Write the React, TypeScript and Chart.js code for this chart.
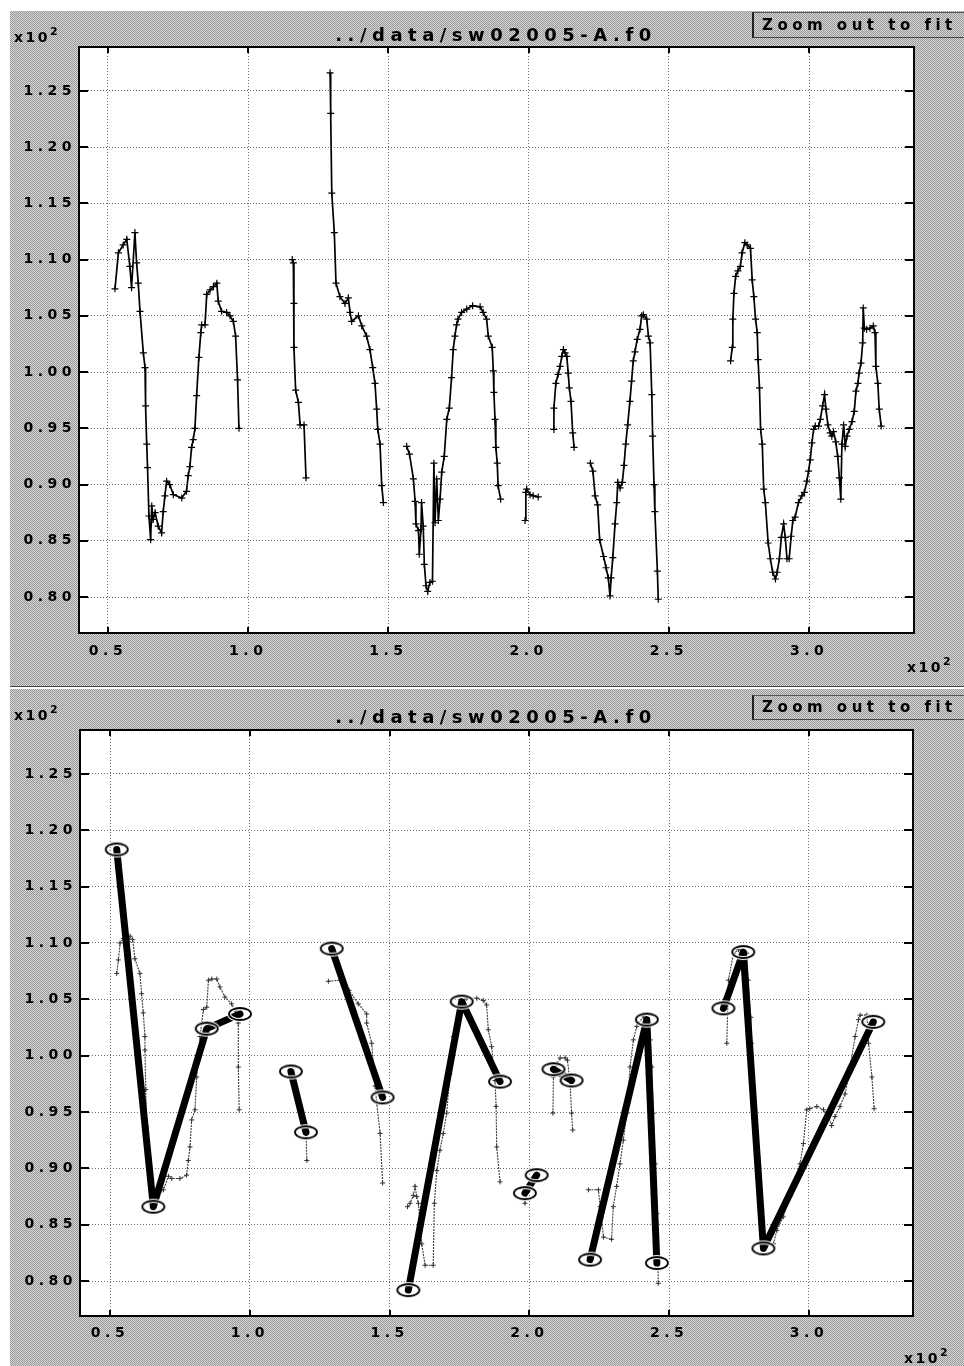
import React, { useEffect, useRef } from "react";
import { Chart, registerables } from "chart.js";

Chart.register(...registerables);

type Pt = [number, number];

// ---------- axes ----------
const xTickValues = [50, 100, 150, 200, 250, 300];
const yTickValues = [80, 85, 90, 95, 100, 105, 110, 115, 120, 125];
const xRangeTop = { min: 39.66, max: 337.4 };
const yRangeTop = { min: 76.8, max: 128.9 };
const xRangeBottom = { min: 39.27, max: 337.2 };
const yRangeBottom = { min: 76.9, max: 128.9 };

const titleText = "../data/sw02005-A.f0";
const buttonText = "Zoom out to fit";
const multiplierText = "x10";
const multiplierExp = "2";

// ---------- upper panel: raw f0 track (frame, Hz) ----------
const rawTrack1: Pt[] = [
  [52.5, 107.4], [53.7, 110.6], [55.4, 111.3], [56.7, 111.8], [57.8, 109.4], [58.4, 107.5],
  [59.6, 112.4], [60.2, 109.7], [60.8, 107.9], [61.4, 105.4], [62.6, 101.7], [63.2, 100.4],
  [63.4, 97.0], [63.8, 93.6], [64.1, 91.5], [64.6, 87.2], [65.2, 85.1], [65.6, 88.1],
  [66.1, 86.9], [66.8, 87.5], [67.9, 86.3], [69.1, 85.7], [69.7, 87.6], [70.3, 89.0],
  [70.9, 90.3], [72.0, 90.0], [73.3, 89.1], [76.3, 88.8], [78.0, 89.4], [78.6, 90.8],
  [79.2, 91.6], [79.8, 93.3], [80.4, 94.0], [81.0, 95.0], [81.6, 97.9], [82.4, 101.3],
  [83.1, 103.5], [83.4, 104.2], [84.6, 104.2], [85.2, 106.9], [86.4, 107.3], [87.6, 107.6],
  [88.8, 107.9], [89.3, 106.3], [90.5, 105.4], [92.3, 105.3], [93.5, 105.0], [94.7, 104.5],
  [95.5, 103.2], [96.2, 99.3], [96.7, 95.0],
];
const rawTrack2: Pt[] = [
  [115.7, 110.0], [116.1, 109.7], [116.3, 106.1], [116.3, 102.2], [116.9, 98.4], [117.9, 97.3],
  [118.5, 95.3], [119.9, 95.3], [120.6, 90.6],
];
const rawTrack3: Pt[] = [
  [129.2, 126.6], [129.4, 123.0], [129.8, 115.9], [130.7, 112.4], [131.3, 107.9], [132.7, 106.7],
  [134.5, 106.1], [135.7, 106.6], [136.3, 105.3], [136.9, 104.5], [139.3, 105.0], [140.5, 104.1],
  [142.2, 103.2], [143.4, 102.0], [144.4, 100.4], [145.2, 99.0], [145.8, 96.7], [146.2, 94.9],
  [147.0, 93.6], [147.6, 89.9], [148.2, 88.4],
];
const rawTrack4: Pt[] = [
  [156.5, 93.4], [157.5, 92.7], [158.9, 90.5], [159.5, 88.5], [159.8, 86.5], [160.7, 85.9],
  [161.0, 83.8], [161.6, 86.0], [161.8, 88.4], [162.4, 86.3], [162.8, 82.9], [163.4, 81.0],
  [164.0, 80.5], [164.8, 81.3], [165.7, 81.4], [166.2, 91.9], [166.6, 86.6], [167.2, 90.5],
  [167.8, 86.8], [168.4, 88.7], [169.0, 91.1], [169.9, 92.5], [170.8, 95.8], [171.7, 96.8],
  [172.5, 99.5], [173.1, 102.0], [173.7, 103.2], [174.3, 104.2], [174.8, 104.7], [176.1, 105.3],
  [177.9, 105.6], [180.0, 105.9], [182.7, 105.8], [183.8, 105.3], [185.0, 104.7], [185.6, 103.2],
  [187.0, 102.2], [187.4, 100.1], [187.6, 98.2], [188.0, 95.8], [188.3, 93.3], [188.8, 91.9],
  [189.1, 89.9], [190.0, 88.7],
];
const rawTrack5: Pt[] = [
  [198.7, 86.8], [199.0, 89.3], [199.3, 89.6], [200.5, 89.1], [201.6, 89.0], [203.4, 88.9],
];
const rawTrack6: Pt[] = [
  [209.0, 94.9], [209.0, 96.8], [209.7, 99.0], [210.5, 99.8], [211.2, 100.5], [211.8, 101.4],
  [212.4, 102.0], [213.0, 101.7], [213.6, 101.4], [214.1, 99.9], [214.5, 98.6], [215.1, 97.4],
  [215.7, 94.6], [216.2, 93.3],
];
const rawTrack7: Pt[] = [
  [222.0, 91.9], [222.9, 91.2], [223.7, 89.0], [224.6, 88.2], [225.3, 85.1], [226.7, 83.6],
  [227.6, 82.6], [228.4, 81.7], [229.0, 80.1], [229.4, 81.7], [230.0, 83.5], [230.8, 86.5],
  [231.4, 88.4], [231.8, 90.2], [232.6, 89.7], [233.4, 90.2], [234.0, 91.7], [234.6, 93.6],
  [235.3, 95.3], [236.1, 97.4], [236.7, 99.2], [237.3, 101.0], [237.9, 101.8], [238.7, 102.9],
  [239.7, 103.8], [240.3, 105.0], [240.9, 105.1], [242.1, 104.7], [242.7, 103.2], [243.3, 102.6],
  [243.9, 98.0], [244.2, 94.3], [244.7, 90.0], [245.0, 87.6], [245.9, 82.3], [246.2, 79.8],
];
const rawTrack8: Pt[] = [
  [272.0, 101.0], [272.6, 102.2], [272.8, 104.7], [273.2, 107.0], [273.8, 108.5], [274.6, 109.0],
  [275.5, 109.4], [276.1, 110.6], [277.1, 111.5], [277.9, 111.3], [279.1, 111.0], [279.7, 108.2],
  [280.3, 106.7], [280.9, 104.7], [281.5, 103.5], [281.8, 101.1], [282.3, 98.6], [282.7, 94.9],
  [283.3, 93.6], [283.8, 89.6], [284.4, 88.4], [285.4, 84.8], [286.2, 83.4], [287.0, 82.2],
  [288.0, 81.6], [288.6, 82.2], [289.4, 83.4], [290.1, 85.3], [290.9, 86.5], [291.5, 85.3],
  [292.1, 83.4], [292.9, 83.4], [293.6, 85.4], [294.2, 86.8], [295.0, 87.1], [296.2, 88.4],
  [297.4, 89.0], [298.3, 89.3], [299.2, 90.3], [299.8, 91.2], [300.4, 92.2], [301.0, 93.7],
  [301.6, 94.9], [302.2, 95.2], [303.4, 95.2], [304.0, 95.8], [304.8, 97.0], [305.5, 98.0],
  [306.0, 96.7], [306.7, 95.3], [307.5, 94.6], [308.1, 94.3], [308.7, 94.7], [309.5, 93.8],
  [310.2, 92.5], [310.8, 90.6], [311.3, 88.7], [311.7, 93.6], [312.3, 95.3], [312.9, 93.4],
  [313.5, 94.3], [314.3, 94.9], [315.3, 95.6], [316.1, 96.5], [316.7, 98.3], [317.4, 99.0],
  [317.8, 99.9], [318.5, 100.8], [319.1, 102.6], [319.3, 105.7], [319.7, 103.9], [320.5, 103.8],
  [321.7, 103.9], [322.9, 104.1], [323.5, 103.5], [323.8, 100.5], [324.5, 99.0], [325.0, 96.7],
  [325.7, 95.2],
];
const rawTrack = [rawTrack1, rawTrack2, rawTrack3, rawTrack4, rawTrack5, rawTrack6, rawTrack7, rawTrack8];

// ---------- lower panel: smoothed f0 track ----------
const smoothTrack1: Pt[] = [
  [52.4, 107.3], [53.0, 108.5], [53.6, 110.0], [54.8, 110.4], [56.0, 110.3], [56.6, 110.1],
  [57.2, 110.6], [58.1, 110.3], [58.9, 108.6], [60.7, 107.3], [61.3, 105.5], [61.9, 103.8],
  [62.5, 101.7], [62.5, 100.5], [62.8, 97.0], [63.1, 93.7], [64.0, 90.1], [64.9, 87.5],
  [66.7, 87.5], [69.1, 88.1], [70.9, 89.3], [72.1, 89.1], [75.0, 89.1], [77.4, 89.4],
  [78.0, 90.7], [78.6, 91.9], [79.2, 94.3], [80.4, 95.2], [81.0, 98.1], [82.2, 101.7],
  [82.8, 102.9], [83.4, 104.1], [84.6, 104.3], [85.2, 106.7], [86.4, 106.8], [88.2, 106.8],
  [89.3, 106.1], [91.1, 105.2], [93.5, 104.6], [94.7, 104.0], [95.9, 102.9], [95.9, 99.0],
  [96.2, 95.2],
];
const smoothTrack2: Pt[] = [
  [114.4, 98.1], [115.6, 97.3], [118.0, 95.2], [119.1, 94.3], [120.1, 93.1], [120.4, 90.7],
];
const smoothTrack3: Pt[] = [
  [128.1, 106.6], [132.3, 106.7], [135.5, 105.8], [138.8, 104.6], [141.8, 103.7], [141.8, 102.9],
  [143.6, 101.1], [144.8, 97.3], [145.4, 95.8], [146.6, 93.1], [147.5, 88.7],
];
const smoothTrack4: Pt[] = [
  [156.4, 86.6], [157.3, 86.9], [158.5, 87.6], [159.1, 88.4], [159.7, 87.5], [160.3, 86.9],
  [161.5, 83.3], [162.7, 81.4], [165.6, 81.4], [166.0, 86.9], [166.9, 89.8], [168.0, 91.6],
  [169.2, 93.1], [170.4, 94.9], [171.6, 98.4], [172.8, 101.7], [174.6, 104.3], [177.6, 105.1],
  [181.2, 105.1], [183.5, 104.9], [184.7, 104.5], [185.3, 102.3], [186.5, 100.8], [187.7, 97.8],
  [188.1, 95.5], [188.3, 91.9], [189.5, 88.8],
];
const smoothTrack5: Pt[] = [[198.4, 86.9], [199.6, 88.4], [202.6, 89.5]];
const smoothTrack6: Pt[] = [
  [208.4, 94.9], [208.6, 98.1], [209.8, 99.3], [211.0, 99.8], [212.8, 99.8], [213.6, 99.6],
  [214.5, 97.8], [215.1, 94.9], [215.5, 93.4],
];
const smoothTrack7: Pt[] = [
  [221.1, 88.1], [224.7, 88.1], [225.3, 86.6], [226.5, 83.9], [229.4, 83.7], [230.0, 86.6],
  [231.2, 88.4], [232.4, 90.4], [233.6, 92.5], [234.8, 94.9], [236.0, 99.0], [237.2, 101.4],
  [238.4, 102.6], [240.8, 103.5], [243.2, 101.4], [243.8, 99.0], [244.3, 94.9], [245.0, 90.4],
  [245.6, 86.0], [246.1, 79.8],
];
const smoothTrack8: Pt[] = [
  [270.6, 101.1], [271.2, 106.7], [273.0, 109.1], [274.8, 109.4], [277.7, 109.1], [278.3, 106.7],
  [279.2, 103.4], [279.5, 101.1], [280.7, 94.6], [281.9, 91.0], [283.1, 86.3], [284.3, 83.3],
  [287.3, 83.3], [288.5, 84.5], [290.8, 85.7], [293.2, 87.5], [296.8, 90.4], [298.0, 92.2],
  [299.2, 95.2], [300.3, 95.3], [302.8, 95.5], [305.2, 95.2], [307.0, 94.6], [308.1, 93.8],
  [309.3, 94.6], [311.1, 95.5], [312.9, 96.6], [314.7, 99.0], [316.5, 101.7], [317.7, 103.2],
  [318.3, 103.6], [320.7, 103.6], [321.3, 101.1], [322.5, 98.1], [323.3, 95.3],
];
const smoothTrack = [smoothTrack1, smoothTrack2, smoothTrack3, smoothTrack4, smoothTrack5, smoothTrack6, smoothTrack7, smoothTrack8];

// ---------- lower panel: stylized targets ----------
const targets1: Pt[] = [[52.4, 118.3], [65.5, 86.6], [84.6, 102.4], [96.5, 103.7]];
const targets2: Pt[] = [[114.7, 98.6], [120.1, 93.2]];
const targets3: Pt[] = [[129.3, 109.5], [147.5, 96.3]];
const targets4: Pt[] = [[156.7, 79.2], [175.8, 104.8], [189.5, 97.7]];
const targets5: Pt[] = [[198.4, 87.8], [202.6, 89.4]];
const targets6: Pt[] = [[208.6, 98.8], [215.1, 97.8]];
const targets7: Pt[] = [[221.7, 81.9], [242.0, 103.2], [245.6, 81.6]];
const targets8: Pt[] = [[269.4, 104.2], [276.5, 109.2], [283.7, 82.9], [323.0, 103.0]];
const targets = [targets1, targets2, targets3, targets4, targets5, targets6, targets7, targets8];

// ---------- helpers ----------
const FONT = "'DejaVu Sans', sans-serif";
const toXY = (seg: Pt[]) => seg.map(([x, y]) => ({ x, y }));

function makeEllipse(): HTMLCanvasElement {
  const c = document.createElement("canvas");
  c.width = 28;
  c.height = 18;
  const g = c.getContext("2d")!;
  g.beginPath();
  g.ellipse(14, 9, 11, 6, 0, 0, Math.PI * 2);
  g.strokeStyle = "#fff";
  g.lineWidth = 4;
  g.stroke();
  g.beginPath();
  g.ellipse(14, 9, 11, 6, 0, 0, Math.PI * 2);
  g.strokeStyle = "#000";
  g.lineWidth = 1.8;
  g.stroke();
  return c;
}

const framePlugin = {
  id: "frame",
  beforeDraw(chart: any) {
    const { ctx, chartArea: a } = chart;
    ctx.save();
    ctx.fillStyle = "#fff";
    ctx.fillRect(a.left, a.top, a.right - a.left, a.bottom - a.top);
    ctx.restore();
    ctx.letterSpacing = "4.5px";
  },
  afterDraw(chart: any) {
    const { ctx, chartArea: a, scales } = chart;
    ctx.save();
    ctx.strokeStyle = "#000";
    ctx.lineWidth = 2;
    ctx.beginPath();
    xTickValues.forEach((v) => {
      const px = Math.round(scales.x.getPixelForValue(v));
      ctx.moveTo(px, a.top);
      ctx.lineTo(px, a.top + 6);
      ctx.moveTo(px, a.bottom);
      ctx.lineTo(px, a.bottom - 6);
    });
    yTickValues.forEach((v) => {
      const py = Math.round(scales.y.getPixelForValue(v));
      ctx.moveTo(a.left, py);
      ctx.lineTo(a.left + 9, py);
      ctx.moveTo(a.right, py);
      ctx.lineTo(a.right - 9, py);
    });
    ctx.stroke();
    ctx.lineWidth = 2;
    ctx.strokeRect(a.left, a.top, a.right - a.left, a.bottom - a.top);
    ctx.restore();
  },
};

interface Geom {
  padTop: number;
  padRight: number;
  yWidth: number;
  xHeight: number;
  xLabelPad: number;
  xr: { min: number; max: number };
  yr: { min: number; max: number };
}

function buildChart(canvas: HTMLCanvasElement, datasets: any[], g: Geom) {
  const tickFont = { family: FONT, size: 14, weight: "bold" as const };
  return new Chart(canvas, {
    type: "scatter",
    data: { datasets },
    options: {
      animation: false,
      responsive: false,
      devicePixelRatio: 1,
      events: [],
      layout: { padding: { left: 0, top: g.padTop, right: g.padRight, bottom: 0 } },
      plugins: { legend: { display: false }, tooltip: { enabled: false }, title: { display: false } },
      scales: {
        x: {
          type: "linear",
          min: g.xr.min,
          max: g.xr.max,
          afterBuildTicks: (s: any) => {
            s.ticks = xTickValues.map((v) => ({ value: v }));
          },
          afterFit: (s: any) => {
            s.height = g.xHeight;
          },
          ticks: {
            callback: (v: any) => (Number(v) / 100).toFixed(1),
            font: tickFont,
            color: "#000",
            padding: g.xLabelPad,
            maxRotation: 0,
            autoSkip: false,
          },
          grid: { color: "#6a6a6a", lineWidth: 1, drawTicks: false },
          border: { display: false, dash: [1, 2] },
        },
        y: {
          type: "linear",
          min: g.yr.min,
          max: g.yr.max,
          afterBuildTicks: (s: any) => {
            s.ticks = yTickValues.map((v) => ({ value: v }));
          },
          afterFit: (s: any) => {
            s.width = g.yWidth;
          },
          ticks: {
            callback: (v: any) => (Number(v) / 100).toFixed(2),
            font: tickFont,
            color: "#000",
            padding: 3,
            autoSkip: false,
          },
          grid: { color: "#6a6a6a", lineWidth: 1, drawTicks: false },
          border: { display: false, dash: [1, 2] },
        },
      },
    } as any,
    plugins: [framePlugin],
  });
}

const checker = "repeating-conic-gradient(#9a9a9a 0% 25%, #d4d4d4 0% 50%) 0 0 / 2px 2px";

function Multiplier({ left, baseline }: { left: number; baseline: number }) {
  return (
    <div
      style={{
        position: "absolute",
        left,
        top: baseline - 12,
        fontFamily: FONT,
        fontWeight: "bold",
        fontSize: 14,
        lineHeight: "14px",
        letterSpacing: 2.5,
        color: "#000",
        whiteSpace: "nowrap",
      }}
    >
      {multiplierText}
      <span style={{ fontSize: 11, position: "relative", top: -7, letterSpacing: 0 }}>{multiplierExp}</span>
    </div>
  );
}

function Overlay({ titleBaseline, btnTop, btnH, brBaseline, brLeft, tlBaseline }: any) {
  return (
    <>
      <Multiplier left={4} baseline={tlBaseline} />
      <div
        style={{
          position: "absolute",
          left: 486 - 250,
          width: 500,
          top: titleBaseline - 15,
          textAlign: "center",
          fontFamily: FONT,
          fontWeight: "bold",
          fontSize: 18,
          lineHeight: "18px",
          letterSpacing: 5.5,
          color: "#000",
          whiteSpace: "nowrap",
        }}
      >
        {titleText}
      </div>
      <div
        style={{
          position: "absolute",
          left: 742,
          top: btnTop,
          width: 212,
          height: btnH,
          boxSizing: "border-box",
          borderLeft: "2px solid #222",
          borderTop: "1px solid #555",
          borderBottom: "1px solid #444",
          fontFamily: FONT,
          fontWeight: "bold",
          fontSize: 15,
          lineHeight: `${btnH - 2}px`,
          letterSpacing: 4.5,
          paddingLeft: 8,
          color: "#000",
          whiteSpace: "nowrap",
          overflow: "hidden",
        }}
      >
        {buttonText}
      </div>
      <Multiplier left={brLeft} baseline={brBaseline} />
    </>
  );
}

export default function App() {
  const topRef = useRef<HTMLCanvasElement>(null);
  const botRef = useRef<HTMLCanvasElement>(null);

  useEffect(() => {
    const ellipse = makeEllipse();

    const topSets = rawTrack.map((seg) => ({
      data: toXY(seg),
      showLine: true,
      borderColor: "#000",
      borderWidth: 1.7,
      tension: 0,
      pointStyle: "cross",
      pointRadius: 3.5,
      pointBorderWidth: 1.2,
      pointBorderColor: "#000",
      pointBackgroundColor: "#000",
    }));

    const thickSets = targets.map((seg) => ({
      data: toXY(seg),
      showLine: true,
      borderColor: "#000",
      borderWidth: 7,
      borderJoinStyle: "round",
      borderCapStyle: "round",
      tension: 0,
      pointStyle: ellipse,
      pointRadius: 6,
      order: 0,
    }));
    const thinSets = smoothTrack.map((seg) => ({
      data: toXY(seg),
      showLine: true,
      borderColor: "#3a3a3a",
      borderWidth: 1.1,
      borderDash: [2, 1],
      tension: 0,
      pointStyle: "cross",
      pointRadius: 2.5,
      pointBorderWidth: 1,
      pointBorderColor: "#333",
      order: 1,
    }));

    const c1 = buildChart(topRef.current!, topSets, {
      padTop: 36,
      padRight: 50,
      yWidth: 69,
      xHeight: 54,
      xLabelPad: 10,
      xr: xRangeTop,
      yr: yRangeTop,
    });
    const c2 = buildChart(botRef.current!, [...thickSets, ...thinSets], {
      padTop: 41,
      padRight: 51,
      yWidth: 70,
      xHeight: 50,
      xLabelPad: 9,
      xr: xRangeBottom,
      yr: yRangeBottom,
    });
    return () => {
      c1.destroy();
      c2.destroy();
    };
  }, []);

  return (
    <div style={{ position: "absolute", left: 0, top: 0, width: 964, height: 1366, background: "#fff", overflow: "hidden" }}>
      <div style={{ position: "absolute", left: 10, top: 11, width: 954, height: 676, background: checker, borderBottom: "1px solid #444", boxSizing: "border-box" }}>
        <canvas ref={topRef} width={954} height={676} style={{ position: "absolute", left: 0, top: 0, width: 954, height: 676 }} />
        <Overlay tlBaseline={31} titleBaseline={30} btnTop={1} btnH={26} brLeft={897} brBaseline={661} />
      </div>
      <div style={{ position: "absolute", left: 10, top: 689, width: 954, height: 677, background: checker }}>
        <canvas ref={botRef} width={954} height={677} style={{ position: "absolute", left: 0, top: 0, width: 954, height: 677 }} />
        <Overlay tlBaseline={31} titleBaseline={34} btnTop={6} btnH={25} brLeft={894} brBaseline={674} />
      </div>
    </div>
  );
}
